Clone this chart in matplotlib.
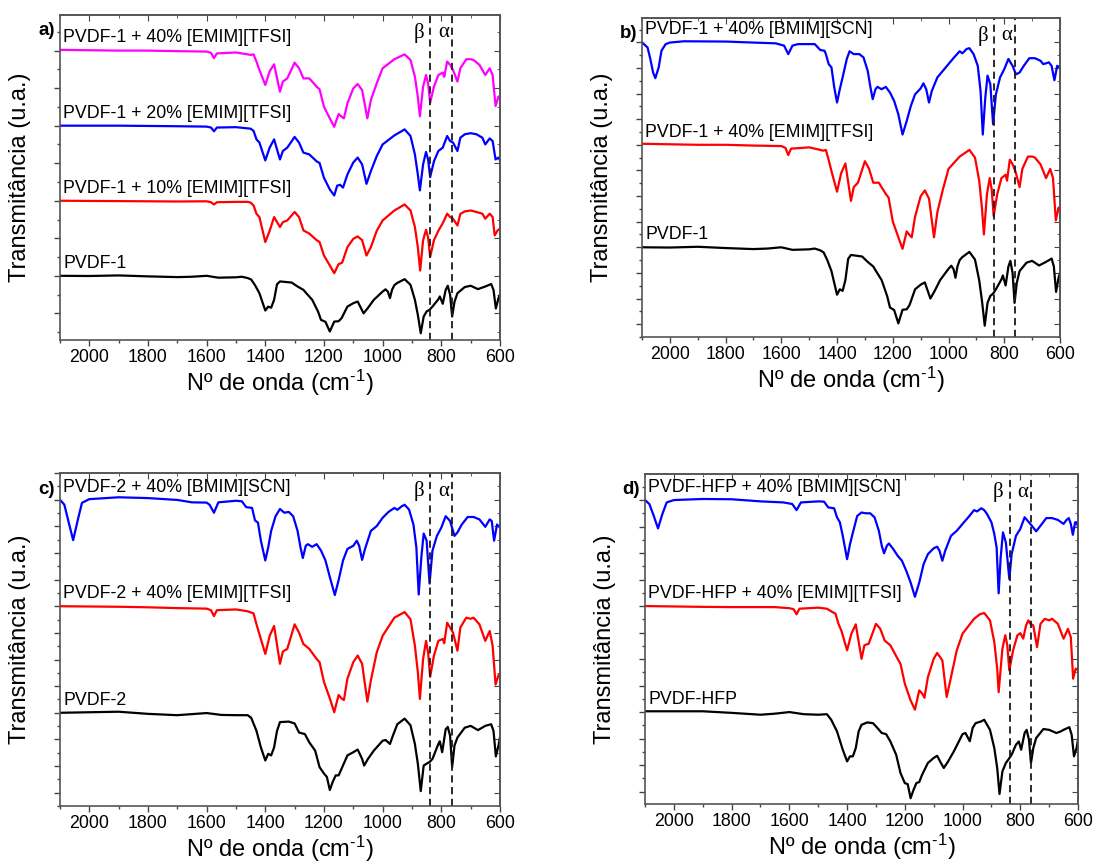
import numpy as np
import matplotlib.pyplot as plt
from matplotlib.ticker import MultipleLocator

plt.rcParams['font.family'] = ['Liberation Sans', 'DejaVu Sans']
plt.rcParams['mathtext.fontset'] = 'custom'
plt.rcParams['mathtext.rm'] = 'Liberation Sans'
plt.rcParams['mathtext.it'] = 'Liberation Sans:italic'

# Espectros FTIR: (numero de onda, caida de transmitancia en unidades de marca)
pvdf1 = [(2100,0),(2000,0.01),(1900,-0.02),(1800,0.03),(1700,0.07),(1650,0.05),(1600,0.0),(1560,0.1),
         (1500,0.08),(1480,0.05),(1460,0.12),(1448,0.2),(1435,0.5),(1420,0.93),(1400,1.85),(1390,1.64),
         (1380,1.7),(1370,1.28),(1360,0.45),(1350,0.3),(1330,0.33),(1310,0.36),(1290,0.57),(1270,0.75),
         (1260,0.93),(1240,1.28),(1220,1.91),(1210,2.35),(1195,2.45),(1180,2.97),(1165,2.44),(1150,2.42),
         (1140,2.26),(1120,1.64),(1100,1.46),(1085,1.37),(1065,2.0),(1050,1.71),(1030,1.28),(1000,0.84),
         (990,0.72),(982,0.85),(975,1.19),(968,0.75),(960,0.5),(950,0.38),(925,0.18),(905,0.48),(890,1.28),
         (880,2.08),(870,3.06),(860,2.17),(850,1.9),(840,1.81),(830,1.64),(810,1.25),(805,1.10),(795,1.49),
         (785,0.75),(778,0.53),(770,1.01),(763,2.17),(755,1.39),(745,0.93),(720,0.60),(700,0.53),(675,0.71),
         (650,0.57),(630,0.44),(622,0.75),(614,1.74),(605,1.19),(600,1.0)]

pvdf1_10emim = [(2100,0),(1900,0.02),(1700,0.04),(1600,0.03),(1585,0.08),(1575,0.2),(1565,0.08),(1500,0.06),
         (1460,0.06),(1450,0.1),(1440,0.25),(1430,0.7),(1420,0.87),(1400,2.2),(1385,1.6),(1370,0.87),
         (1350,1.4),(1340,1.14),(1325,1.05),(1300,0.6),(1285,0.87),(1270,1.58),(1250,1.75),(1225,2.1),
         (1215,2.2),(1200,2.92),(1180,3.45),(1165,3.86),(1150,3.38),(1138,3.3),(1120,2.47),(1100,2.03),
         (1085,1.9),(1070,2.1),(1055,2.92),(1040,2.47),(1020,1.6),(1000,1.05),(960,0.52),(925,0.2),(905,0.52),
         (890,1.4),(880,2.47),(872,3.72),(862,2.1),(852,1.55),(845,1.95),(838,3.0),(825,2.1),(810,1.6),
         (795,1.2),(780,0.69),(770,0.87),(760,0.96),(745,1.32),(735,0.7),(720,0.57),(700,0.52),(680,0.6),
         (660,0.69),(650,0.96),(635,0.69),(625,0.87),(618,1.85),(608,1.58),(600,1.5)]

pvdf1_20emim = [(2100,0),(1900,0.0),(1700,0.03),(1600,0.05),(1585,0.1),(1575,0.3),(1565,0.1),(1500,0.08),
         (1450,0.16),(1440,0.28),(1430,0.73),(1420,0.9),(1400,1.85),(1385,1.17),(1370,0.73),(1350,1.8),
         (1340,1.35),(1325,1.17),(1300,0.6),(1285,0.9),(1270,1.44),(1250,1.53),(1225,1.9),(1215,1.99),
         (1200,2.78),(1180,3.4),(1165,3.72),(1155,3.2),(1145,3.15),(1135,3.3),(1120,2.6),(1100,1.96),
         (1085,1.7),(1070,2.06),(1055,3.1),(1040,2.42),(1020,1.62),(1000,1.0),(960,0.52),(925,0.2),(905,0.55),
         (890,1.53),(880,2.6),(873,3.45),(862,2.06),(852,1.4),(845,1.8),(838,2.74),(825,1.9),(810,1.35),
         (795,1.17),(780,0.55),(770,0.82),(760,0.9),(745,1.35),(735,0.64),(720,0.46),(700,0.4),(680,0.46),
         (660,0.64),(650,1.0),(635,0.68),(625,0.82),(615,1.8),(605,1.7),(600,1.85)]

pvdf1_40emim = [(2100,-0.04),(1900,0.0),(1800,0.0),(1700,0.03),(1600,0.05),(1585,0.12),(1575,0.4),(1565,0.15),
         (1500,0.1),(1460,0.2),(1450,0.23),(1440,0.2),(1430,0.59),(1420,1.03),(1400,1.83),(1385,1.1),
         (1370,0.73),(1350,2.19),(1340,1.65),(1325,1.48),(1300,0.64),(1285,0.94),(1270,1.48),(1250,1.48),
         (1225,1.92),(1215,2.06),(1200,2.99),(1180,3.61),(1165,4.06),(1150,3.38),(1140,3.52),(1132,3.61),
         (1120,2.81),(1100,2.01),(1085,1.78),(1070,2.1),(1052,3.61),(1040,2.63),(1020,1.74),(1000,0.94),
         (960,0.46),(925,0.2),(905,0.5),(890,1.39),(880,2.46),(873,3.5),(862,1.92),(852,1.3),(845,1.74),
         (838,2.78),(825,1.92),(810,1.3),(795,1.17),(790,1.4),(780,0.58),(770,0.76),(760,1.03),(745,1.65),
         (735,0.94),(715,0.46),(700,0.46),(690,0.5),(670,0.76),(650,1.3),(635,0.94),(625,1.3),(615,2.95),
         (605,2.45),(600,2.54)]

pvdf1_40bmim = [(2100,0),(2080,0.2),(2070,0.65),(2060,1.18),(2052,1.4),(2040,0.98),(2030,0.33),(2015,0.07),
         (2000,0.01),(1950,-0.04),(1800,-0.03),(1700,0.01),(1620,0.04),(1590,0.13),(1575,0.46),(1560,0.13),
         (1540,0.07),(1480,0.07),(1460,0.3),(1445,0.33),(1440,0.46),(1430,0.85),(1420,0.98),(1410,1.76),
         (1400,2.35),(1390,1.83),(1380,1.37),(1365,0.65),(1355,0.35),(1340,0.46),(1320,0.46),(1305,0.59),
         (1290,1.11),(1280,1.76),(1272,2.22),(1262,1.83),(1255,1.74),(1240,1.83),(1225,1.74),(1210,1.96),
         (1195,2.29),(1180,2.81),(1165,3.6),(1150,3.07),(1135,2.48),(1120,2.03),(1100,1.8),(1090,1.6),
         (1080,1.83),(1070,2.35),(1060,1.9),(1040,1.37),(1020,1.11),(1000,0.85),(980,0.59),(960,0.35),
         (950,0.43),(935,0.26),(925,0.23),(910,0.46),(895,0.92),(885,1.9),(877,3.6),(868,2.16),(860,1.3),
         (850,1.63),(840,3.2),(830,2.03),(815,1.37),(800,1.05),(785,0.65),(770,0.92),(758,1.25),(745,1.18),
         (730,0.92),(710,0.62),(690,0.62),(670,0.72),(660,0.85),(650,0.82),(640,0.78),(630,0.92),(620,1.48),
         (610,0.92),(600,0.98)]

pvdf2 = [(2100,0),(1900,-0.04),(1800,0.04),(1700,0.09),(1650,0.05),(1600,0.01),(1550,0.08),(1500,0.09),
         (1460,0.09),(1448,0.19),(1430,0.68),(1415,1.3),(1400,1.79),(1390,1.54),(1380,1.6),(1370,1.3),
         (1360,0.68),(1350,0.35),(1320,0.33),(1300,0.4),(1285,0.74),(1265,0.8),(1250,1.11),(1230,1.42),
         (1215,2.04),(1200,2.28),(1190,2.41),(1180,2.9),(1170,2.59),(1160,2.35),(1150,2.35),(1140,2.1),
         (1120,1.6),(1100,1.48),(1085,1.38),(1070,1.73),(1063,1.98),(1050,1.73),(1030,1.42),(1000,1.05),
         (990,1.02),(975,1.17),(965,0.86),(950,0.43),(925,0.22),(905,0.47),(890,1.17),(880,1.91),(870,2.94),
         (860,1.98),(850,1.91),(840,1.85),(830,1.73),(810,1.17),(805,1.07),(797,1.48),(785,0.62),(778,0.53),
         (770,0.86),(763,2.04),(755,1.23),(745,0.93),(720,0.56),(700,0.49),(675,0.65),(650,0.49),(630,0.43),
         (622,0.68),(614,1.64),(605,1.23),(600,0.93)]

pvdf2_40emim = [(2100,0),(1900,0.02),(1800,0.04),(1700,0.07),(1600,0.09),(1585,0.15),(1575,0.37),(1565,0.15),
         (1500,0.12),(1460,0.19),(1440,0.27),(1430,0.68),(1420,1.05),(1400,1.79),(1385,1.11),(1370,0.74),
         (1350,2.16),(1340,1.7),(1325,1.6),(1300,0.68),(1285,0.99),(1270,1.42),(1250,1.6),(1225,1.98),
         (1215,2.1),(1200,2.84),(1180,3.46),(1165,3.98),(1150,3.33),(1140,3.46),(1132,3.52),(1120,2.72),
         (1100,2.1),(1085,1.85),(1070,2.16),(1052,3.58),(1040,2.78),(1020,1.73),(1000,1.11),(960,0.43),
         (925,0.22),(905,0.49),(890,1.48),(880,2.47),(873,3.48),(862,1.98),(852,1.3),(845,1.73),(838,2.65),
         (825,1.85),(810,1.3),(795,1.23),(790,1.39),(780,0.62),(770,0.8),(760,0.99),(745,1.67),(735,0.8),
         (715,0.43),(700,0.47),(690,0.43),(670,0.68),(650,1.3),(635,0.93),(625,1.48),(615,2.94),(605,2.59),
         (600,2.55)]

pvdf2_40bmim = [(2100,0),(2085,0.19),(2070,0.86),(2055,1.52),(2040,0.8),(2025,0.12),(2000,-0.02),(1900,-0.09),
         (1800,-0.06),(1700,0.01),(1650,0.1),(1600,0.11),(1590,0.19),(1575,0.49),(1560,0.1),(1500,0.04),
         (1480,0.06),(1465,0.28),(1445,0.31),(1435,0.78),(1425,0.86),(1415,1.54),(1400,2.28),(1390,1.79),
         (1380,1.17),(1365,0.62),(1350,0.35),(1335,0.49),(1320,0.46),(1305,0.62),(1290,1.17),(1280,1.79),
         (1272,2.19),(1262,1.73),(1255,1.67),(1240,1.77),(1225,1.67),(1210,1.91),(1195,2.28),(1180,2.9),
         (1163,3.58),(1150,3.02),(1135,2.28),(1120,1.85),(1100,1.73),(1088,1.54),(1080,1.73),(1070,2.26),
         (1060,1.85),(1040,1.17),(1020,0.99),(1000,0.68),(980,0.46),(960,0.31),(950,0.38),(935,0.25),
         (925,0.19),(910,0.37),(895,0.93),(885,1.79),(877,3.56),(868,2.16),(860,1.27),(850,1.54),(840,3.15),
         (830,1.91),(815,1.36),(800,1.05),(785,0.62),(770,0.8),(755,1.36),(745,1.23),(730,0.93),(710,0.65),
         (690,0.65),(670,0.74),(650,1.02),(635,0.74),(628,0.8),(620,1.54),(610,0.93),(600,1.05)]

pvdf_hfp = [(2100,-0.03),(1900,-0.03),(1800,0.03),(1700,0.1),(1650,0.06),(1600,0.0),(1550,0.08),(1500,0.1),
         (1470,0.08),(1455,0.29),(1435,0.73),(1415,1.42),(1400,1.86),(1390,1.67),(1380,1.67),(1370,1.36),
         (1360,0.73),(1350,0.48),(1330,0.39),(1310,0.42),(1295,0.6),(1280,0.79),(1265,0.83),(1250,1.11),
         (1230,1.61),(1215,2.3),(1200,2.68),(1190,2.72),(1180,3.25),(1170,2.94),(1160,2.68),(1150,2.64),
         (1140,2.36),(1120,1.92),(1100,1.73),(1088,1.65),(1075,1.92),(1065,2.11),(1050,1.86),(1030,1.48),
         (1000,0.83),(990,0.79),(975,1.1),(965,0.6),(955,0.42),(935,0.35),(925,0.29),(905,0.67),(890,1.36),
         (880,2.11),(872,3.09),(862,2.24),(850,1.92),(840,1.77),(830,1.61),(815,1.23),(805,1.11),(797,1.42),
         (785,0.79),(778,0.67),(770,1.04),(763,1.92),(755,1.36),(745,0.98),(720,0.64),(700,0.67),(675,0.79),
         (660,0.73),(650,0.67),(630,0.57),(622,0.86),(614,1.67),(605,1.36),(600,1.04)]

pvdf_hfp_40emim = [(2100,0),(1900,0.03),(1800,0.04),(1650,0.04),(1600,0.08),(1585,0.12),(1575,0.31),(1565,0.1),
         (1500,0.06),(1470,0.1),(1450,0.23),(1440,0.29),(1430,0.67),(1420,0.92),(1400,1.67),(1385,1.04),
         (1370,0.69),(1350,1.99),(1340,1.48),(1325,1.42),(1300,0.67),(1285,0.86),(1270,1.3),(1250,1.48),
         (1225,1.99),(1215,2.18),(1200,2.93),(1180,3.56),(1165,3.91),(1150,3.18),(1140,3.3),(1132,3.46),
         (1120,2.68),(1100,1.99),(1088,1.77),(1070,2.05),(1055,3.43),(1040,2.68),(1020,1.67),(1000,1.04),
         (960,0.48),(940,0.31),(925,0.26),(905,0.54),(890,1.36),(880,2.36),(875,3.25),(862,1.61),(852,1.1),
         (845,1.48),(838,2.43),(825,1.67),(810,1.1),(800,1.02),(790,1.23),(780,0.73),(772,0.54),(765,0.67),
         (755,0.73),(742,1.55),(730,0.67),(715,0.48),(700,0.54),(690,0.48),(670,0.67),(650,1.23),(635,0.86),
         (625,1.17),(617,2.74),(608,2.36),(600,2.43)]

pvdf_hfp_40bmim = [(2100,0),(2085,0.15),(2070,0.59),(2055,1.07),(2040,0.53),(2025,0.09),(2000,0.0),(1900,-0.04),
         (1800,-0.03),(1700,0.05),(1620,0.09),(1590,0.15),(1575,0.38),(1560,0.09),(1500,0.05),(1480,0.06),
         (1465,0.28),(1445,0.31),(1435,0.65),(1425,0.84),(1415,1.35),(1400,2.23),(1390,1.67),(1380,1.23),
         (1365,0.6),(1350,0.47),(1335,0.5),(1320,0.5),(1305,0.65),(1290,1.16),(1280,1.72),(1272,2.01),
         (1262,1.72),(1255,1.64),(1240,1.85),(1225,2.1),(1210,2.29),(1195,2.67),(1180,3.11),(1165,3.65),
         (1150,3.11),(1135,2.42),(1120,2.04),(1100,1.82),(1088,1.76),(1080,1.91),(1070,2.29),(1060,1.91),
         (1040,1.35),(1020,1.16),(1000,0.9),(980,0.65),(960,0.38),(950,0.43),(935,0.31),(925,0.38),(915,0.53),
         (900,0.84),(890,1.28),(882,1.79),(875,3.52),(868,2.16),(860,1.22),(850,1.6),(838,2.98),(830,2.04),
         (815,1.35),(800,1.09),(785,0.65),(770,0.84),(760,0.97),(745,1.18),(730,0.97),(710,0.68),(690,0.68),
         (670,0.75),(650,0.9),(640,0.75),(632,0.68),(625,0.9),(618,1.31),(610,0.84),(605,0.84),(600,1.01)]

# bandas de las fases beta y alfa (cm-1)
banda_beta = 837
banda_alfa = 762

ticks_x = [2000, 1800, 1600, 1400, 1200, 1000, 800, 600]


def DibujarPanel(ax, curvas, letra, ylim, paso):
    for datos, desplazamiento, color, etiqueta in curvas:
        arr = np.array(datos, dtype=float)
        ax.plot(arr[:, 0], desplazamiento - arr[:, 1], color=color, lw=1.6, solid_joinstyle='round')
        ax.annotate(etiqueta, (2088, desplazamiento), xytext=(0, 3), textcoords='offset points',
                    fontsize=12.8, ha='left', va='bottom')
    for banda in (banda_beta, banda_alfa):
        ax.axvline(banda, color='#1a1a1a', lw=1.3, ls=(0, (4, 2.5)))
    trans = ax.get_xaxis_transform()
    ax.text(877, 0.945, 'β', transform=trans, family='Liberation Serif', fontsize=15, ha='center', va='center')
    ax.text(791, 0.945, 'α', transform=trans, family='Liberation Serif', fontsize=15, ha='center', va='center')
    ax.text(-0.012, 0.952, letra, transform=ax.transAxes, fontsize=13.5, fontweight='bold',
            ha='right', va='center')

    ax.set_xlim(2100, 600)
    ax.set_ylim(*ylim)
    ax.set_xticks(ticks_x)
    ax.xaxis.set_minor_locator(MultipleLocator(100))
    ax.yaxis.set_major_locator(MultipleLocator(paso))
    ax.yaxis.set_minor_locator(MultipleLocator(paso / 2))
    ax.set_yticklabels([])
    ax.tick_params(axis='both', which='major', labelsize=12.8, length=4.5, width=1.0, color='#444444')
    ax.tick_params(axis='both', which='minor', length=2.5, width=1.0, color='#444444')
    ax.tick_params(axis='x', which='both', direction='out', top=False, pad=2)
    ax.tick_params(axis='y', which='both', direction='out', right=False)
    for lado in ax.spines.values():
        lado.set_color('#555555')
        lado.set_linewidth(1.2)
    # marcas interiores en los ejes opuestos
    arriba = ax.secondary_xaxis('top')
    arriba.set_xticks(ticks_x)
    arriba.xaxis.set_minor_locator(MultipleLocator(100))
    arriba.tick_params(which='both', direction='in', labeltop=False, color='#444444')
    arriba.tick_params(which='major', length=4)
    arriba.tick_params(which='minor', length=2.5)
    derecha = ax.secondary_yaxis('right')
    derecha.yaxis.set_major_locator(MultipleLocator(paso))
    derecha.yaxis.set_minor_locator(MultipleLocator(paso / 2))
    derecha.tick_params(which='both', direction='in', labelright=False, color='#444444')
    derecha.tick_params(which='major', length=4)
    derecha.tick_params(which='minor', length=2.5)
    for sec in (arriba, derecha):
        for lado in sec.spines.values():
            lado.set_color('#555555')
            lado.set_linewidth(1.2)

    ax.set_xlabel('Nº de onda (cm$^{\u20101}$)', fontsize=17, labelpad=1)
    ax.set_ylabel('Transmitância (u.a.)', fontsize=17, labelpad=13)


fig = plt.figure(figsize=(10.94, 8.64), dpi=100)

ax_a = fig.add_axes([0.0548, 0.6065, 0.4022, 0.3762])
DibujarPanel(ax_a, [(pvdf1, 0, 'black', 'PVDF-1'),
                    (pvdf1_10emim, 4, '#ff0000', 'PVDF-1 + 10% [EMIM][TFSI]'),
                    (pvdf1_20emim, 8, '#0000ff', 'PVDF-1 + 20% [EMIM][TFSI]'),
                    (pvdf1_40emim, 12, '#ff00ff', 'PVDF-1 + 40% [EMIM][TFSI]')],
             'a)', (-3.42, 13.9), 2)

ax_b = fig.add_axes([0.5868, 0.6100, 0.3821, 0.3692])
DibujarPanel(ax_b, [(pvdf1, 0, 'black', 'PVDF-1'),
                    (pvdf1_40emim, 4, '#ff0000', 'PVDF-1 + 40% [EMIM][TFSI]'),
                    (pvdf1_40bmim, 8, '#0000ff', 'PVDF-1 + 40% [BMIM][SCN]')],
             'b)', (-3.5, 8.95), 1)

ax_c = fig.add_axes([0.0548, 0.0671, 0.4022, 0.3854])
DibujarPanel(ax_c, [(pvdf2, 0, 'black', 'PVDF-2'),
                    (pvdf2_40emim, 4, '#ff0000', 'PVDF-2 + 40% [EMIM][TFSI]'),
                    (pvdf2_40bmim, 8, '#0000ff', 'PVDF-2 + 40% [BMIM][SCN]')],
             'c)', (-3.5, 9.0), 1)

ax_d = fig.add_axes([0.5896, 0.0694, 0.3958, 0.3819])
DibujarPanel(ax_d, [(pvdf_hfp, 0, 'black', 'PVDF-HFP'),
                    (pvdf_hfp_40emim, 4, '#ff0000', 'PVDF-HFP + 40% [EMIM][TFSI]'),
                    (pvdf_hfp_40bmim, 8, '#0000ff', 'PVDF-HFP + 40% [BMIM][SCN]')],
             'd)', (-3.47, 8.98), 1)

fig.savefig('out.png', dpi=100)
